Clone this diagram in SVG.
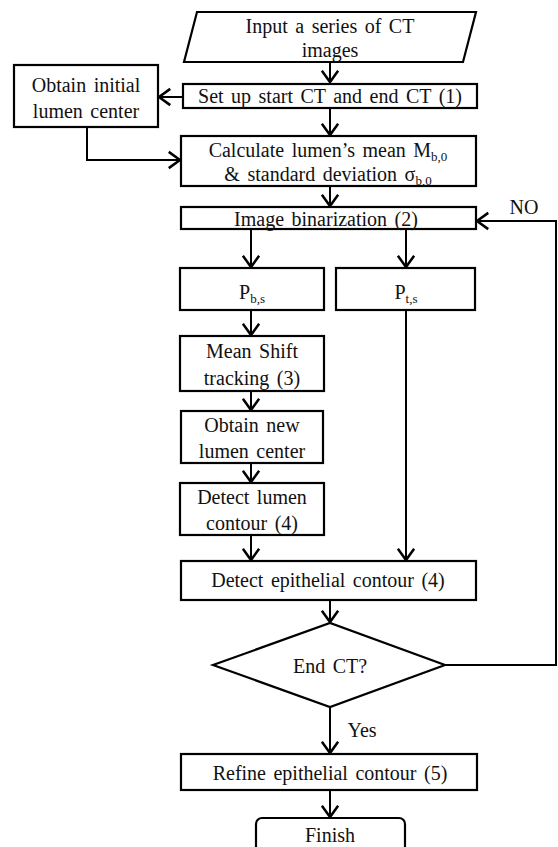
<svg xmlns="http://www.w3.org/2000/svg" width="558" height="847" viewBox="0 0 558 847">
<defs>
<style>
.box{fill:#fff;stroke:#000;stroke-width:2.2}
.t{font-family:"Liberation Serif","Times New Roman",serif;font-size:20px;fill:#111;text-anchor:middle;word-spacing:2.5px}
.sub{font-size:13px}
.c{fill:none;stroke:#000;stroke-width:2}
</style>
<marker id="ah" markerUnits="userSpaceOnUse" markerWidth="20" markerHeight="20" viewBox="-11 -8 13 16" refX="0" refY="0" orient="auto">
<path d="M-9,-6.5 L0,0 L-9,6.5" fill="none" stroke="#000" stroke-width="2"/>
</marker>
</defs>
<rect width="558" height="847" fill="#fff"/>
<g id="connectors">
<line class="c" x1="330" y1="62" x2="330" y2="82" marker-end="url(#ah)"/>
<line class="c" x1="330" y1="108" x2="330" y2="135" marker-end="url(#ah)"/>
<line class="c" x1="183" y1="97" x2="159" y2="97" marker-end="url(#ah)"/>
<polyline class="c" points="87,127 87,160 180,160" marker-end="url(#ah)"/>
<line class="c" x1="330" y1="186" x2="330" y2="206" marker-end="url(#ah)"/>
<line class="c" x1="251" y1="229" x2="251" y2="267" marker-end="url(#ah)"/>
<line class="c" x1="406" y1="229" x2="406" y2="267" marker-end="url(#ah)"/>
<line class="c" x1="251" y1="310" x2="251" y2="335" marker-end="url(#ah)"/>
<line class="c" x1="251" y1="391" x2="251" y2="410" marker-end="url(#ah)"/>
<line class="c" x1="251" y1="463" x2="251" y2="482" marker-end="url(#ah)"/>
<line class="c" x1="251" y1="535" x2="251" y2="560" marker-end="url(#ah)"/>
<line class="c" x1="406" y1="310" x2="406" y2="560" marker-end="url(#ah)"/>
<line class="c" x1="330" y1="600" x2="330" y2="622" marker-end="url(#ah)"/>
<polyline class="c" points="445,665 556,665 556,221 477,221" marker-end="url(#ah)"/>
<line class="c" x1="330" y1="707" x2="330" y2="753" marker-end="url(#ah)"/>
<line class="c" x1="330" y1="790" x2="330" y2="817" marker-end="url(#ah)"/>
<text class="t" x="524" y="214">NO</text>
<text class="t" x="362" y="737">Yes</text>
</g>
<g id="input">
<polygon class="box" points="197,12 476,12 463,62 184,62"/>
<text class="t" x="330" y="33">Input  a series  of  CT</text>
<text class="t" x="330" y="57">images</text>
</g>
<g id="setup">
<rect class="box" x="183" y="84" width="294" height="24"/>
<text class="t" x="330" y="103">Set up start CT and end CT (1)</text>
</g>
<g id="initial">
<rect class="box" x="14" y="65" width="144" height="62"/>
<text class="t" x="86" y="92">Obtain  initial</text>
<text class="t" x="86" y="118">lumen  center</text>
</g>
<g id="calculate">
<rect class="box" x="181" y="136" width="295" height="50"/>
<text class="t" x="328" y="157">Calculate  lumen’s  mean M<tspan class="sub" dy="4">b,0</tspan></text>
<text class="t" x="328" y="181">&amp; standard  deviation  σ<tspan class="sub" dy="4">b,0</tspan></text>
</g>
<g id="binarization">
<rect class="box" x="181" y="207" width="295" height="22"/>
<text class="t" x="326" y="226">Image  binarization  (2)</text>
</g>
<g id="pbs">
<rect class="box" x="180" y="268" width="144" height="42"/>
<text class="t" x="252" y="299">P<tspan class="sub" dy="4">b,s</tspan></text>
</g>
<g id="pts">
<rect class="box" x="336" y="268" width="139" height="42"/>
<text class="t" x="406" y="299">P<tspan class="sub" dy="4">t,s</tspan></text>
</g>
<g id="meanshift">
<rect class="box" x="180" y="336" width="144" height="55"/>
<text class="t" x="252" y="358">Mean Shift</text>
<text class="t" x="252" y="385">tracking  (3)</text>
</g>
<g id="newcenter">
<rect class="box" x="181" y="411" width="142" height="52"/>
<text class="t" x="252" y="432">Obtain  new</text>
<text class="t" x="252" y="458">lumen  center</text>
</g>
<g id="lumencontour">
<rect class="box" x="180" y="483" width="144" height="52"/>
<text class="t" x="252" y="504">Detect lumen</text>
<text class="t" x="252" y="530">contour  (4)</text>
</g>
<g id="epithelial">
<rect class="box" x="181" y="561" width="295" height="39"/>
<text class="t" x="328" y="587">Detect epithelial  contour  (4)</text>
</g>
<g id="endct">
<polygon class="box" points="213,665 330,623 445,665 330,707"/>
<text class="t" x="330" y="673">End CT?</text>
</g>
<g id="refine">
<rect class="box" x="181" y="754" width="296" height="36"/>
<text class="t" x="330" y="780">Refine  epithelial  contour  (5)</text>
</g>
<g id="finish">
<rect class="box" x="256" y="818" width="149" height="50" rx="6"/>
<text class="t" x="330" y="842">Finish</text>
</g>
</svg>
